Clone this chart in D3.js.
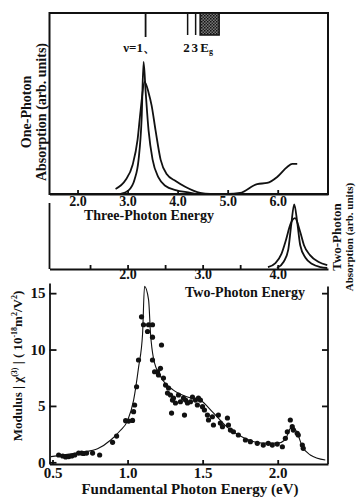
<!DOCTYPE html>
<html>
<head>
<meta charset="utf-8">
<script src="https://cdn.jsdelivr.net/npm/d3@7"></script>
<style>
  body { margin: 0; background: #fff; }
  svg { display: block; }
  text { font-family: "Liberation Serif", "DejaVu Serif", serif; font-weight: bold; fill: #111; }
  .axis path, .axis line { stroke: #111; stroke-width: 1.8px; }
</style>
</head>
<body>
<div id="chart"></div>
<script>
// fundamental photon energy range shared by the three stacked panels (eV)
const fundDomain = [0.48, 2.335];

// one-photon absorption, plotted against three-photon energy (arb. units)
const oneE_a = [2.86, 3.02, 3.14, 3.22, 3.28, 3.32, 3.36, 3.42, 3.50, 3.62, 3.76, 3.96, 4.26, 4.36];
const oneA_a = [0.0, 0.02, 0.08, 0.19, 0.41, 0.73, 0.57, 0.35, 0.19, 0.09, 0.044, 0.022, 0.006, 0.0];
const oneE_b = [2.76, 2.96, 3.10, 3.20, 3.26, 3.34, 3.42, 3.48, 3.56, 3.66, 3.78, 3.96, 4.16, 4.45, 4.65, 5.0, 5.25, 5.59, 5.79, 5.99, 6.19, 6.29, 6.39];
const oneA_b = [0.028, 0.077, 0.16, 0.30, 0.46, 0.62, 0.56, 0.49, 0.35, 0.19, 0.11, 0.072, 0.039, 0.006, 0.0, 0.0, 0.006, 0.055, 0.061, 0.094, 0.149, 0.166, 0.166];

// exciton series and band gap marks (three-photon energy, eV)
const levelLabels = ["ν=1、", "2", "3"];
const levelE = [3.36, 4.20, 4.36];
const gapBand = [4.45, 4.83];

// two-photon absorption, plotted against two-photon energy (arb. units)
const twoE_a = [3.99, 4.08, 4.14, 4.18, 4.22, 4.26, 4.30, 4.37, 4.46, 4.57, 4.66];
const twoA_a = [0.015, 0.11, 0.29, 0.67, 0.98, 0.71, 0.36, 0.17, 0.076, 0.03, 0.015];
const twoE_b = [3.87, 3.97, 4.05, 4.11, 4.17, 4.23, 4.30, 4.35, 4.43, 4.54, 4.66];
const twoA_b = [0.03, 0.09, 0.23, 0.44, 0.68, 0.77, 0.56, 0.36, 0.21, 0.11, 0.06];

// |chi(3)| measured points (fundamental eV, 1e-18 m^2/V^2)
const chiW = [0.541, 0.568, 0.588, 0.608, 0.628, 0.648, 0.674, 0.694, 0.707, 0.727, 0.767, 0.814, 0.900, 0.927,
  0.987, 1.007, 1.033, 1.040, 1.047, 1.060, 1.073, 1.093, 1.106, 1.133, 1.140, 1.166, 1.166, 1.226, 1.166,
  1.180, 1.200, 1.219, 1.206, 1.239, 1.253, 1.266, 1.273, 1.286, 1.299, 1.306, 1.293, 1.319, 1.339, 1.352,
  1.372, 1.379, 1.386, 1.399, 1.419, 1.432, 1.452, 1.465, 1.472, 1.485, 1.499, 1.512, 1.532, 1.539, 1.565,
  1.572, 1.605, 1.618, 1.632, 1.665, 1.672, 1.685, 1.705, 1.738, 1.785, 1.818, 1.864, 1.904, 1.937, 1.964,
  1.997, 2.031, 2.051, 2.064, 2.084, 2.097, 2.104, 2.130, 2.137, 2.164, 2.170];
const chiV = [0.65, 0.56, 0.47, 0.51, 0.56, 0.65, 0.82, 0.82, 0.78, 0.82, 0.82, 0.65, 1.77, 2.33,
  3.69, 3.66, 3.71, 4.49, 5.08, 6.70, 9.07, 12.9, 12.2, 11.6, 12.2, 12.2, 11.1, 10.4, 9.07,
  8.03, 8.03, 8.33, 7.74, 7.47, 6.85, 6.14, 6.59, 5.97, 5.52, 5.70, 4.37, 5.26, 5.97, 5.37,
  5.70, 4.19, 5.52, 5.26, 5.37, 5.79, 5.52, 5.08, 5.70, 5.52, 4.93, 4.64, 4.19, 3.75, 4.04,
  3.31, 4.19, 3.48, 3.16, 3.93, 3.31, 2.86, 2.71, 2.42, 1.98, 1.83, 1.68, 1.53, 1.68, 1.53,
  1.62, 1.38, 2.13, 2.71, 3.75, 3.16, 2.86, 2.57, 2.42, 1.53, 1.24];

// theoretical fit
const fitW = [0.49, 0.6, 0.7, 0.8, 0.89, 0.95, 1.0, 1.04, 1.073, 1.10, 1.113, 1.14, 1.153, 1.173, 1.22, 1.305,
  1.40, 1.485, 1.57, 1.665, 1.77, 1.90, 2.0, 2.05, 2.084, 2.104, 2.13, 2.164, 2.217, 2.317];
const fitV = [0.5, 0.7, 0.9, 1.2, 2.0, 2.8, 3.7, 5.5, 8.4, 11.4, 15.6, 14.4, 11.4, 9.2, 7.6, 6.4,
  5.8, 5.5, 4.4, 3.1, 2.2, 1.7, 1.7, 2.0, 3.0, 3.1, 2.6, 1.4, 0.65, 0.2];

// tick values
const threeTicks = [2, 3, 4, 5, 6];
const twoTicks = [1.5, 2, 2.5, 3, 3.5, 4];
const fundTicks = [0.5, 1.0, 1.5, 2.0];
const chiTicks = [0, 5, 10, 15];

const W = 356, H = 501, L = 49.5, R = 328;

const svg = d3.select("#chart").append("svg")
  .attr("width", W)
  .attr("height", H);

const xF = d3.scaleLinear().domain(fundDomain).range([L, R]);
const x3 = d3.scaleLinear().domain(fundDomain.map(d => 3 * d)).range([L, R]);
const x2 = d3.scaleLinear().domain(fundDomain.map(d => 2 * d)).range([L, R]);

const yTop = d3.scaleLinear().domain([0, 1]).range([194, 13]);
const yMid = d3.scaleLinear().domain([0, 1]).range([269, 203]);
const yBot = d3.scaleLinear().domain([-0.15, 15.9]).range([464, 283]);

const zip = (a, b) => a.map((d, i) => [d, b[i]]);
const fmt = d3.format(".1f");

// ---- top panel: one-photon absorption
svg.append("rect")
  .attr("x", L).attr("y", yTop.range()[1])
  .attr("width", R - L).attr("height", yTop.range()[0] - yTop.range()[1])
  .attr("fill", "none").attr("stroke", "#111").attr("stroke-width", 2);

svg.append("g")
  .attr("class", "axis")
  .attr("transform", "translate(0," + yTop.range()[0] + ")")
  .call(d3.axisBottom(x3).tickValues(threeTicks).tickSize(-4).tickSizeOuter(0).tickPadding(2).tickFormat(fmt))
  .call(g => g.selectAll("text").attr("font-size", 14).attr("dy", "0.71em"));

let lineTop = d3.line().x(d => x3(d[0])).y(d => yTop(d[1])).curve(d3.curveMonotoneX);
[zip(oneE_a, oneA_a), zip(oneE_b, oneA_b)].forEach(s => {
  svg.append("path")
    .datum(s)
    .attr("fill", "none")
    .attr("stroke", "#111")
    .attr("stroke-width", 1.8)
    .attr("d", lineTop);
});

// exciton marks
levelE.forEach((e, i) => {
  svg.append("line")
    .attr("x1", x3(e)).attr("x2", x3(e))
    .attr("y1", 13).attr("y2", i === 0 ? 37 : 35)
    .attr("stroke", "#111").attr("stroke-width", i === 0 ? 1.8 : 1.5);
  svg.append("text")
    .attr("x", x3(e) + (i === 0 ? -6 : -1))
    .attr("y", 52)
    .attr("text-anchor", "middle")
    .attr("font-size", 13)
    .text(levelLabels[i]);
});

let defs = svg.append("defs");
let stip = defs.append("pattern")
  .attr("id", "stipple")
  .attr("width", 3).attr("height", 3)
  .attr("patternUnits", "userSpaceOnUse");
stip.append("rect").attr("width", 3).attr("height", 3).attr("fill", "#777");
stip.append("rect").attr("width", 1.5).attr("height", 1.5).attr("fill", "#111");
stip.append("rect").attr("x", 1.5).attr("y", 1.5).attr("width", 1.5).attr("height", 1.5).attr("fill", "#222");

svg.append("rect")
  .attr("x", x3(gapBand[0])).attr("y", 13)
  .attr("width", x3(gapBand[1]) - x3(gapBand[0])).attr("height", 22)
  .attr("fill", "url(#stipple)").attr("stroke", "#111").attr("stroke-width", 1.5);

let eg = svg.append("text")
  .attr("x", (x3(gapBand[0]) + x3(gapBand[1])) / 2 - 3)
  .attr("y", 52)
  .attr("text-anchor", "middle")
  .attr("font-size", 13)
  .text("E");
eg.append("tspan").attr("font-size", 8).attr("dy", 2).text("g");

svg.append("text")
  .attr("x", 149).attr("y", 220)
  .attr("text-anchor", "middle")
  .attr("font-size", 14)
  .text("Three-Photon Energy");

svg.append("text")
  .attr("transform", "translate(31,112) rotate(-90)")
  .attr("text-anchor", "middle")
  .attr("font-size", 14)
  .text("One-Photon");
svg.append("text")
  .attr("transform", "translate(46,112) rotate(-90)")
  .attr("text-anchor", "middle")
  .attr("font-size", 14)
  .text("Absorption (arb. units)");

// ---- middle panel: two-photon absorption
svg.append("line")
  .attr("x1", L).attr("x2", L)
  .attr("y1", yMid.range()[1]).attr("y2", yMid.range()[0])
  .attr("stroke", "#111").attr("stroke-width", 1.8);

svg.append("g")
  .attr("class", "axis")
  .attr("transform", "translate(0," + yMid.range()[0] + ")")
  .call(d3.axisBottom(x2).tickValues(twoTicks).tickSize(-4).tickSizeOuter(0).tickPadding(0)
    .tickFormat(d => Number.isInteger(d) ? fmt(d) : ""))
  .call(g => g.selectAll("text").attr("font-size", 14).attr("dy", "0.71em"));

let lineMid = d3.line().x(d => x2(d[0])).y(d => yMid(d[1])).curve(d3.curveMonotoneX);
[zip(twoE_a, twoA_a), zip(twoE_b, twoA_b)].forEach(s => {
  svg.append("path")
    .datum(s)
    .attr("fill", "none")
    .attr("stroke", "#111")
    .attr("stroke-width", 1.8)
    .attr("d", lineMid);
});

svg.append("text")
  .attr("x", 245).attr("y", 297)
  .attr("text-anchor", "middle")
  .attr("font-size", 14)
  .text("Two-Photon Energy");

svg.append("text")
  .attr("transform", "translate(341,237) rotate(-90)")
  .attr("text-anchor", "middle")
  .attr("font-size", 13)
  .text("Two-Photon");
svg.append("text")
  .attr("transform", "translate(352.5,237) rotate(-90)")
  .attr("text-anchor", "middle")
  .attr("font-size", 11)
  .text("Absorption (arb. units)");

// ---- bottom panel: |chi(3)| spectrum
svg.append("g")
  .attr("class", "axis")
  .attr("transform", "translate(0," + yBot.range()[0] + ")")
  .call(d3.axisBottom(xF).tickValues(fundTicks).tickSize(-4).tickSizeOuter(0).tickPadding(3).tickFormat(fmt))
  .call(g => g.selectAll("text").attr("font-size", 15).attr("dy", "0.7em"));

svg.append("g")
  .attr("class", "axis")
  .attr("transform", "translate(" + L + ",0)")
  .call(d3.axisLeft(yBot).tickValues(chiTicks).tickSize(-7).tickSizeOuter(0).tickPadding(4))
  .call(g => g.selectAll("text").attr("font-size", 15));

svg.append("g")
  .attr("class", "axis")
  .attr("transform", "translate(" + R + ",0)")
  .call(d3.axisRight(yBot).tickValues(chiTicks.slice(1)).tickSize(-6).tickSizeOuter(0).tickFormat(""))
  .call(g => g.select(".domain").attr("d", "M0," + yBot(15.6) + "V" + yBot.range()[0]));

let fitLine = d3.line().x(d => xF(d[0])).y(d => yBot(d[1])).curve(d3.curveMonotoneX);
svg.append("path")
  .datum(zip(fitW, fitV))
  .attr("fill", "none")
  .attr("stroke", "#111")
  .attr("stroke-width", 1.1)
  .attr("d", fitLine);

svg.append("g")
  .selectAll("circle")
  .data(zip(chiW, chiV))
  .join("circle")
  .attr("cx", d => xF(d[0]))
  .attr("cy", d => yBot(d[1]))
  .attr("r", 2.6)
  .attr("fill", "#111");

svg.append("text")
  .attr("x", 190).attr("y", 494)
  .attr("text-anchor", "middle")
  .attr("font-size", 15)
  .text("Fundamental Photon Energy  (eV)");

let ylab = svg.append("text")
  .attr("transform", "translate(22,366) rotate(-90)")
  .attr("text-anchor", "middle")
  .attr("font-size", 13);
ylab.append("tspan").text("Modulus | χ");
ylab.append("tspan").attr("font-size", 8).attr("dy", -5).text("(3)");
ylab.append("tspan").attr("dy", 5).text(" |  ( 10");
ylab.append("tspan").attr("font-size", 8).attr("dy", -5).text("-18");
ylab.append("tspan").attr("dy", 5).text("m");
ylab.append("tspan").attr("font-size", 8).attr("dy", -5).text("2");
ylab.append("tspan").attr("dy", 5).text("/V");
ylab.append("tspan").attr("font-size", 8).attr("dy", -5).text("2");
ylab.append("tspan").attr("dy", 5).text(")");
</script>
</body>
</html>
